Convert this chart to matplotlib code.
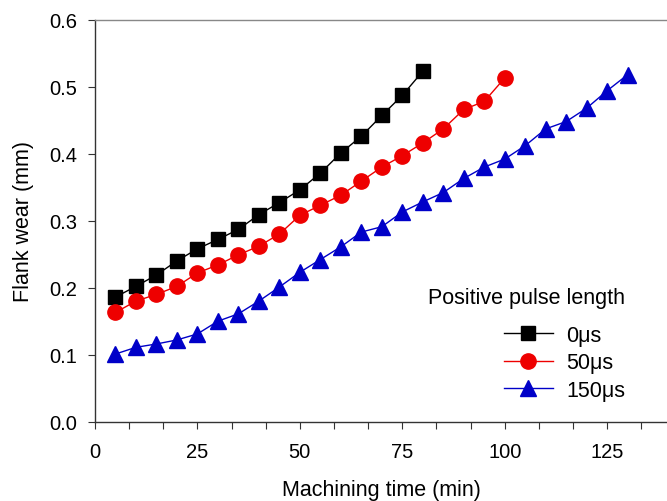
import matplotlib.pyplot as plt
from matplotlib.ticker import MultipleLocator, FormatStrFormatter

plt.rcParams["font.family"] = ["Liberation Sans", "DejaVu Sans"]

# machining time (min)
TIME_0 = list(range(5, 85, 5))
TIME_50 = list(range(5, 105, 5))
TIME_150 = list(range(5, 135, 5))

# flank wear (mm)
WEAR_0 = [0.186, 0.202, 0.219, 0.240, 0.258, 0.272, 0.287, 0.309, 0.327, 0.346,
          0.371, 0.401, 0.426, 0.457, 0.487, 0.523]
WEAR_50 = [0.163, 0.180, 0.190, 0.202, 0.222, 0.234, 0.249, 0.262, 0.280, 0.308,
           0.323, 0.338, 0.359, 0.380, 0.397, 0.416, 0.437, 0.466, 0.478, 0.513]
WEAR_150 = [0.101, 0.111, 0.116, 0.122, 0.131, 0.150, 0.161, 0.180, 0.201, 0.223,
            0.242, 0.261, 0.283, 0.291, 0.313, 0.328, 0.342, 0.363, 0.380, 0.392,
            0.412, 0.437, 0.448, 0.468, 0.494, 0.518]

LABELS = ["0\u03bcs", "50\u03bcs", "150\u03bcs"]


def draw(output="out.png"):
    fig = plt.figure(figsize=(6.67, 5.02), dpi=100)
    ax = fig.add_axes([0.1424, 0.158, 1 - 0.1424, 0.9588 - 0.158])

    ax.plot(TIME_0, WEAR_0, color="black", lw=1.0, marker="s", ms=10,
            label=LABELS[0])
    ax.plot(TIME_50, WEAR_50, color="#ee0000", lw=1.0, marker="o", ms=11,
            label=LABELS[1])
    ax.plot(TIME_150, WEAR_150, color="#0000c8", lw=1.0, marker="^", ms=12,
            label=LABELS[2])

    ax.set_xlim(0, 139.6)
    ax.set_ylim(0, 0.6)

    ax.xaxis.set_major_locator(MultipleLocator(25))
    ax.xaxis.set_minor_locator(MultipleLocator(25 / 3))
    ax.yaxis.set_major_locator(MultipleLocator(0.1))
    ax.yaxis.set_major_formatter(FormatStrFormatter("%.1f"))

    ax.tick_params(axis="both", which="both", direction="out", length=4.8,
                   width=0.8, color="#333333", labelsize=14.5)
    ax.tick_params(axis="x", pad=10)
    ax.tick_params(axis="y", pad=8)

    for side in ["left", "bottom"]:
        ax.spines[side].set_linewidth(1.0)
        ax.spines[side].set_color("#333333")
    ax.spines["top"].set_linewidth(1.0)
    ax.spines["top"].set_color("#888888")
    ax.spines["right"].set_visible(False)

    ax.set_xlabel("Machining time (min)", fontsize=15.5, labelpad=12.5)
    ax.set_ylabel("Flank wear (mm)", fontsize=15.5, labelpad=11)

    leg = ax.legend(
        loc="upper right",
        bbox_to_anchor=(625 / 667, 1 - 288 / 502),
        bbox_transform=fig.transFigure,
        title="Positive pulse length",
        title_fontsize=15.5,
        fontsize=15.5,
        frameon=False,
        borderpad=0,
        borderaxespad=0,
        handlelength=2.3,
        handletextpad=0.6,
        labelspacing=0.3,
        alignment="right",
    )
    leg._legend_box.sep = 12

    fig.savefig(output, dpi=100, facecolor="white")
    plt.close(fig)


if __name__ == "__main__":
    draw()
